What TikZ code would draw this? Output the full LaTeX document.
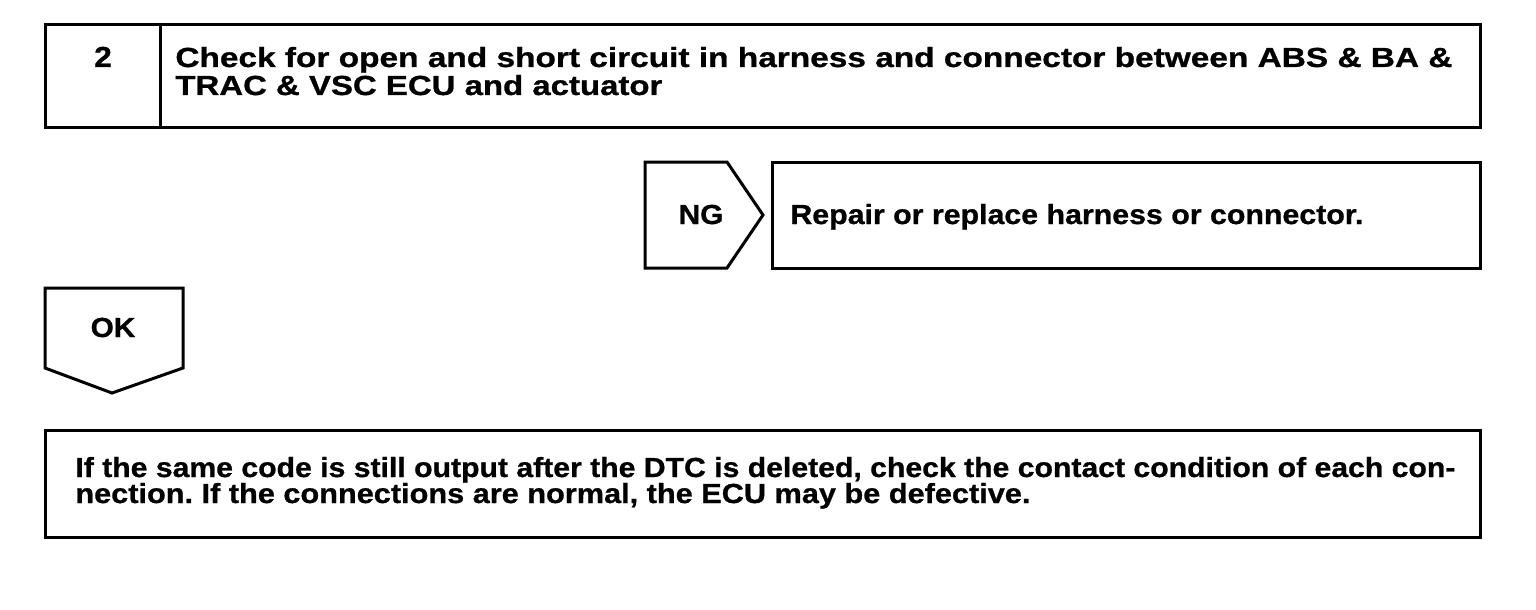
\documentclass[tikz,border=0pt]{standalone}
\usepackage{fontspec}
\usepackage{graphicx}
\setmainfont{Liberation Sans}[BoldFeatures={FakeBold=0.8}]
\frenchspacing
\newcommand\fitline[2]{\hbox{\resizebox{#1}{\height}{#2}}}
\begin{document}
\begin{tikzpicture}[x=0.5pt,y=-0.5pt,
  frame/.style={draw=black,line width=1.5pt,line join=miter},
  txt/.style={font=\bfseries\fontsize{13.8}{14}\selectfont,inner sep=0pt,anchor=base west},
  lbl/.style={font=\bfseries\fontsize{13.8}{14}\selectfont,inner sep=0pt,anchor=base}]
\useasboundingbox (0,0) rectangle (1536,610);
% top box
\draw[frame] (45,25) rectangle (1480,128);
\draw[frame] (160,25) -- (160,128);
\node[lbl] (num) at (103,67) {\scalebox{1.15}[1.05]{2}};
\node[txt] (title) at (175,67) {\vtop{\baselineskip=14pt\lineskiplimit=-100pt
  \fitline{638.5pt}{Check for open and short circuit in harness and connector between ABS \& BA \&}
  \fitline{243.5pt}{TRAC \& VSC ECU and actuator}}};
% NG
\draw[frame] (645,162) -- (727,162) -- (763,215) -- (727,268) -- (645,268) -- cycle;
\node[lbl] (ng) at (701,224) {\scalebox{1.08}[1]{NG}};
\draw[frame] (772,162) rectangle (1480,268);
\node[txt] (rep) at (790,224) {\fitline{286.5pt}{Repair or replace harness or connector.}};
% OK
\draw[frame] (45,288) -- (183,288) -- (183,368) -- (112,393) -- (45,368) -- cycle;
\node[lbl] (ok) at (113,337) {\scalebox{1.08}[1]{OK}};
% bottom
\draw[frame] (45,430) rectangle (1480,537);
\node[txt] (note) at (75,477) {\vtop{\baselineskip=13pt\lineskiplimit=-100pt
  \fitline{690pt}{If the same code is still output after the DTC is deleted, check the contact condition of each con-}
  \fitline{477.5pt}{nection. If the connections are normal, the ECU may be defective.}}};
\end{tikzpicture}
\end{document}
